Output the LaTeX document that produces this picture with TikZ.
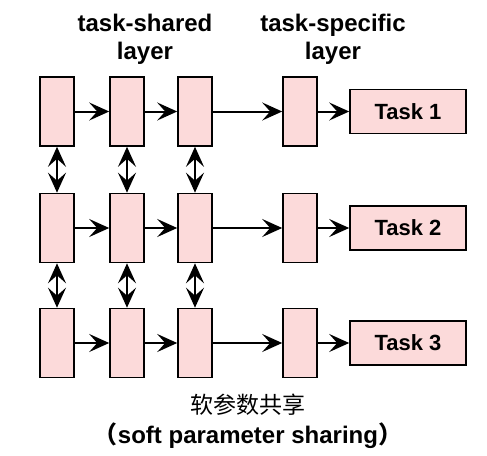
\documentclass[tikz,border=0pt]{standalone}
\usepackage{fontspec}
\setmainfont{Liberation Sans}
\newfontfamily\cjk{Noto Sans CJK SC}
\usetikzlibrary{arrows.meta}
\definecolor{boxpink}{HTML}{FCDADA}
\tikzset{
  layer/.style={draw=black,line width=0.8pt,fill=boxpink,inner sep=0pt,minimum width=17pt,minimum height=34.5pt},
  taskbox/.style={draw=black,line width=0.8pt,fill=boxpink,inner sep=0pt,minimum width=58pt,minimum height=22pt,font=\bfseries\fontsize{11}{13}\selectfont},
  flow/.style={line width=1pt,-{Stealth[length=10pt,width=9pt,inset=4pt]}},
  share/.style={line width=1pt,{Stealth[length=10pt,width=9pt,inset=4pt]}-{Stealth[length=10pt,width=9pt,inset=4pt]}}
}
\begin{document}
\begin{tikzpicture}[x=0.5pt,y=-0.5pt]
\useasboundingbox (0,0) rectangle (487,455);
% headings
\node[align=center,font=\bfseries\fontsize{12}{14}\selectfont] (shared) at (145,39) {task-shared\\layer};
\node[align=center,font=\bfseries\fontsize{12}{14}\selectfont] (specific) at (333,39) {task-specific\\layer};
% row 1
\node[layer] (a1) at (57,111.5) {};
\node[layer] (b1) at (127,111.5) {};
\node[layer] (c1) at (195,111.5) {};
\node[layer] (s1) at (300,111.5) {};
\node[taskbox] (t1) at (408,111.5) {Task 1};
% row 2
\node[layer] (a2) at (57,228) {};
\node[layer] (b2) at (127,228) {};
\node[layer] (c2) at (195,228) {};
\node[layer] (s2) at (300,228) {};
\node[taskbox] (t2) at (408,228) {Task 2};
% row 3
\node[layer] (a3) at (57,343) {};
\node[layer] (b3) at (127,343) {};
\node[layer] (c3) at (195,343) {};
\node[layer] (s3) at (300,343) {};
\node[taskbox] (t3) at (408,343) {Task 3};
% forward connections
\draw[flow] (a1) -- (b1);
\draw[flow] (b1) -- (c1);
\draw[flow] (c1) -- (s1);
\draw[flow] (s1) -- (t1);
\draw[flow] (a2) -- (b2);
\draw[flow] (b2) -- (c2);
\draw[flow] (c2) -- (s2);
\draw[flow] (s2) -- (t2);
\draw[flow] (a3) -- (b3);
\draw[flow] (b3) -- (c3);
\draw[flow] (c3) -- (s3);
\draw[flow] (s3) -- (t3);
% soft sharing between tasks
\draw[share] (a1) -- (a2);
\draw[share] (b1) -- (b2);
\draw[share] (c1) -- (c2);
\draw[share] (a2) -- (a3);
\draw[share] (b2) -- (b3);
\draw[share] (c2) -- (c3);
% caption
\node[font=\cjk\fontsize{11.5}{13}\selectfont] (zh) at (248,405) {软参数共享};
\node[font=\bfseries\fontsize{12}{14}\selectfont] (en) at (248,436) {{\cjk（}soft parameter sharing{\cjk）}};
\end{tikzpicture}
\end{document}
